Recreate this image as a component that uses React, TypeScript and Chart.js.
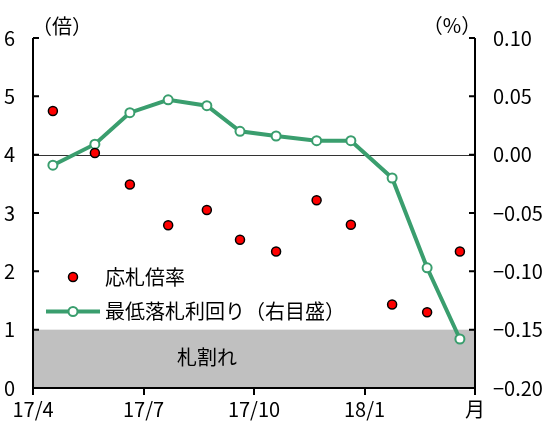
import React, { useEffect, useRef } from "react";
import { Chart, registerables } from "chart.js";

Chart.register(...registerables);

// Auction timing in months after the start of 17/4
const auctionMonths = [0.54, 1.68, 2.63, 3.67, 4.72, 5.62, 6.6, 7.7, 8.63, 9.75, 10.7, 11.59];
// 応札倍率 (times)
const bidToCover = [4.75, 4.03, 3.49, 2.79, 3.05, 2.54, 2.34, 3.22, 2.8, 1.43, 1.3, 2.34];
// 最低落札利回り (%)
const minYield = [-0.009, 0.009, 0.036, 0.047, 0.042, 0.02, 0.016, 0.012, 0.012, -0.02, -0.097, -0.158];
// x tick positions and labels
const xTickValues = [0, 3, 6, 9, 12];
const xTickLabels = ["17/4", "17/7", "17/10", "18/1", "月"];

const GREEN = "rgb(58,158,110)";
const FONT = "'Noto Sans CJK JP', 'Noto Sans', sans-serif";

export default function App() {
  const ref = useRef<HTMLCanvasElement | null>(null);

  useEffect(() => {
    if (!ref.current) return;
    const deco = {
      id: "deco",
      beforeDatasetsDraw(chart: any) {
        const { ctx, chartArea: a, scales } = chart;
        const y = scales.y;
        ctx.save();
        // 札割れ band
        const y0 = y.getPixelForValue(0);
        const y1 = y.getPixelForValue(1);
        ctx.fillStyle = "#c0c0c0";
        ctx.fillRect(a.left, y1, a.right - a.left, y0 - y1);
        ctx.fillStyle = "#000";
        ctx.font = `20px ${FONT}`;
        ctx.textAlign = "center";
        ctx.textBaseline = "middle";
        ctx.fillText("札割れ", 207, (y0 + y1) / 2 - 1);
        // zero line
        const yz = y.getPixelForValue(4);
        ctx.strokeStyle = "#333";
        ctx.lineWidth = 1;
        ctx.beginPath();
        ctx.moveTo(a.left, Math.round(yz) + 0.5);
        ctx.lineTo(a.right, Math.round(yz) + 0.5);
        ctx.stroke();
        ctx.restore();
      },
      afterDraw(chart: any) {
        const { ctx, chartArea: a, scales } = chart;
        ctx.save();
        ctx.strokeStyle = "#000";
        ctx.lineWidth = 2;
        ctx.beginPath();
        ctx.moveTo(a.left, a.top);
        ctx.lineTo(a.left, a.bottom);
        ctx.lineTo(a.right, a.bottom);
        ctx.lineTo(a.right, a.top);
        ctx.stroke();
        // inward ticks
        ctx.beginPath();
        scales.y.ticks.forEach((t: any) => {
          const p = scales.y.getPixelForValue(t.value);
          ctx.moveTo(a.left, p);
          ctx.lineTo(a.left + 6, p);
        });
        scales.y1.ticks.forEach((t: any) => {
          const p = scales.y1.getPixelForValue(t.value);
          ctx.moveTo(a.right, p);
          ctx.lineTo(a.right - 6, p);
        });
        ctx.stroke();
        // unit labels
        ctx.fillStyle = "#000";
        ctx.font = `20px ${FONT}`;
        ctx.textAlign = "center";
        ctx.textBaseline = "middle";
        ctx.fillText("（倍）", 62, 26);
        ctx.fillText("（%）", 452, 25);
        // legend
        ctx.textAlign = "left";
        const ly1 = 277;
        const ly2 = 311.5;
        ctx.beginPath();
        ctx.arc(73, ly1, 4.5, 0, Math.PI * 2);
        ctx.fillStyle = "#ff0000";
        ctx.fill();
        ctx.lineWidth = 1.5;
        ctx.strokeStyle = "#000";
        ctx.stroke();
        ctx.fillStyle = "#000";
        ctx.fillText("応札倍率", 105, ly1);
        ctx.beginPath();
        ctx.moveTo(46, ly2);
        ctx.lineTo(100, ly2);
        ctx.strokeStyle = GREEN;
        ctx.lineWidth = 4;
        ctx.stroke();
        ctx.beginPath();
        ctx.arc(73, ly2, 4.5, 0, Math.PI * 2);
        ctx.fillStyle = "#fff";
        ctx.fill();
        ctx.lineWidth = 2;
        ctx.stroke();
        ctx.fillStyle = "#000";
        ctx.fillText("最低落札利回り（右目盛）", 105, ly2);
        ctx.restore();
      },
    };

    const chart = new Chart(ref.current, {
      type: "scatter",
      data: {
        datasets: [
          {
            label: "応札倍率",
            data: auctionMonths.map((m, i) => ({ x: m, y: bidToCover[i] })),
            yAxisID: "y",
            showLine: false,
            pointRadius: 4.5,
            pointBackgroundColor: "#ff0000",
            pointBorderColor: "#000",
            pointBorderWidth: 1.5,
            order: 0,
          },
          {
            label: "最低落札利回り（右目盛）",
            data: auctionMonths.map((m, i) => ({ x: m, y: minYield[i] })),
            yAxisID: "y1",
            showLine: true,
            borderColor: GREEN,
            borderWidth: 4,
            tension: 0,
            pointRadius: 4.5,
            pointBackgroundColor: "#fff",
            pointBorderColor: GREEN,
            pointBorderWidth: 2,
            order: 1,
          } as any,
        ],
      },
      options: {
        animation: false,
        responsive: false,
        layout: { padding: { top: 38, left: 0, right: 0, bottom: 0 } },
        plugins: { legend: { display: false }, tooltip: { enabled: false } },
        scales: {
          x: {
            type: "linear",
            min: 0,
            max: 12,
            afterBuildTicks: (s: any) => {
              s.ticks = xTickValues.map((v) => ({ value: v }));
            },
            afterFit: (s: any) => {
              s.height = 33;
            },
            border: { display: false },
            grid: { display: true, drawOnChartArea: false, drawTicks: true, tickLength: 7, color: "#000", lineWidth: 2 },
            ticks: {
              color: "#000",
              font: { family: FONT, size: 20 },
              padding: 2,
              maxRotation: 0,
              autoSkip: false,
              callback: (v: any) => {
                const i = xTickValues.indexOf(Number(v));
                return i >= 0 ? xTickLabels[i] : "";
              },
            },
          },
          y: {
            type: "linear",
            position: "left",
            min: 0,
            max: 6,
            afterFit: (s: any) => {
              s.width = 33;
            },
            border: { display: false },
            grid: { display: false, drawTicks: false },
            ticks: { stepSize: 1, color: "#000", font: { family: FONT, size: 20 }, padding: 18 },
          },
          y1: {
            type: "linear",
            position: "right",
            min: -0.2,
            max: 0.1,
            afterFit: (s: any) => {
              s.width = 74;
            },
            border: { display: false },
            grid: { display: false, drawTicks: false },
            ticks: {
              stepSize: 0.05,
              color: "#000",
              font: { family: FONT, size: 20 },
              padding: 18,
              callback: (v: any) => {
                const n = Number(v);
                if (Math.abs(n) < 1e-9) return "0.00";
                return n < 0 ? "−" + Math.abs(n).toFixed(2) : n.toFixed(2);
              },
            },
          },
        },
      },
      plugins: [deco],
    } as any);
    return () => chart.destroy();
  }, []);

  return (
    <div style={{ position: "fixed", left: 0, top: 0, width: 549, height: 421, background: "#fff" }}>
      <canvas ref={ref} width={549} height={421} />
    </div>
  );
}
